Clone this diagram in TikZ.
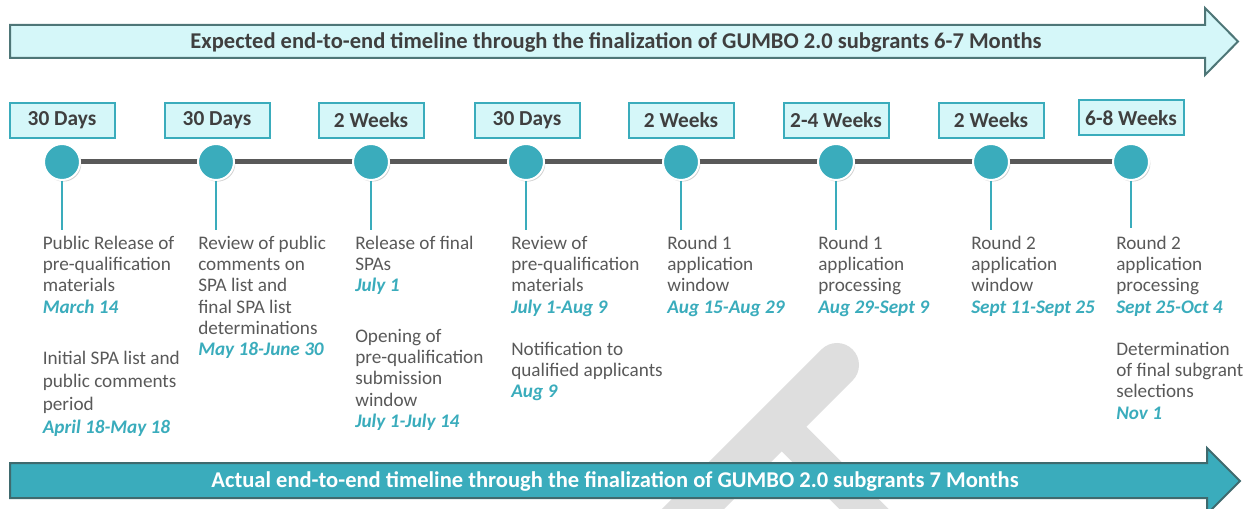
\documentclass[tikz,border=0pt]{standalone}
\usepackage{fontspec}
\setmainfont{Carlito}
\usetikzlibrary{shadows}
\definecolor{tealc}{HTML}{3AACBC}
\definecolor{cyanl}{HTML}{D5F7F9}
\definecolor{boxtxt}{HTML}{3F3F3F}
\definecolor{desctxt}{HTML}{595959}
\definecolor{linegrey}{HTML}{595959}
\definecolor{edgetop}{HTML}{4E7677}
\definecolor{edgebot}{HTML}{3F6A6E}
\definecolor{wmark}{HTML}{DEDEDE}
\newcommand\dt[1]{{\color{tealc}\bfseries\itshape #1}}
\begin{document}
\begin{tikzpicture}[x=0.75pt,y=-0.75pt,
  dur/.style={draw=tealc, fill=cyanl, line width=1.5pt, minimum width=78.75pt, minimum height=26.25pt, inner sep=0pt, font=\fontsize{16}{18}\selectfont\bfseries, text=boxtxt},
  dot/.style={circle, fill=tealc, draw=white, line width=1.5pt, minimum size=27pt, inner sep=0pt, drop shadow={shadow xshift=1pt, shadow yshift=-1.2pt, opacity=0.35}},
  desc/.style={anchor=north west, align=left, inner sep=0pt, font=\fontsize{14.4}{15.9}\selectfont, text=desctxt},
  conn/.style={draw=tealc, line width=1.5pt},
  tl/.style={draw=linegrey, line width=3.75pt},
  bigtxt/.style={font=\fontsize{16.9}{19}\selectfont\bfseries, inner sep=0pt}
]
\useasboundingbox (0,0) rectangle (1252,509);
% watermark
\begin{scope}
\clip (0,0) rectangle (1252,509);
\draw[wmark, line width=33pt, line cap=round] (837,365) -- (620,582);
\draw[wmark, line width=26pt] (778.5,423.5) -- (890,535);
\end{scope}
% top arrow
\path[draw=edgetop, fill=cyanl, line width=1.5pt, line join=miter] (10,25) -- (1205,25) -- (1205,8) -- (1238,41.5) -- (1205,75) -- (1205,58) -- (10,58) -- cycle;
\node[bigtxt, text=boxtxt] (top) at (616,42) {Expected end-to-end timeline through the finalization of GUMBO 2.0 subgrants 6-7 Months};
% bottom arrow
\path[draw=edgebot, fill=tealc, line width=1.5pt, line join=miter] (10,463) -- (1207,463) -- (1207,448) -- (1240,481) -- (1207,514) -- (1207,498) -- (10,498) -- cycle;
\node[bigtxt, text=white] (bot) at (615,481) {Actual end-to-end timeline through the finalization of GUMBO 2.0 subgrants 7 Months};
% duration boxes
\node[dur] (b1) at (62,120.5) {30 Days};
\node[dur] (b2) at (217,120.5) {30 Days};
\node[dur] (b3) at (371,120.5) {2 Weeks};
\node[dur] (b4) at (527,120.5) {30 Days};
\node[dur] (b5) at (681,120.5) {2 Weeks};
\node[dur] (b6) at (836,120.5) {2-4 Weeks};
\node[dur] (b7) at (991,120.5) {2 Weeks};
\node[dur] (b8) at (1131,118) {6-8 Weeks};
% timeline
\coordinate (s1) at (62,162);
\coordinate (s8) at (1131,162);
\draw[tl] (s1) -- (s8);
% dots
\node[dot] (c1) at (62,162) {};
\node[dot] (c2) at (216,162) {};
\node[dot] (c3) at (371,162) {};
\node[dot] (c4) at (526,162) {};
\node[dot] (c5) at (681,162) {};
\node[dot] (c6) at (836,162) {};
\node[dot] (c7) at (991,162) {};
\node[dot] (c8) at (1131,162) {};
% connectors
\coordinate (e1) at (62,230);
\coordinate (e2) at (216,230);
\coordinate (e3) at (371,230);
\coordinate (e4) at (526,230);
\coordinate (e5) at (681,230);
\coordinate (e6) at (836,230);
\coordinate (e7) at (991,230);
\coordinate (e8) at (1131,228);
\foreach \i in {1,...,8} {\draw[conn] (c\i) -- (e\i);}
% descriptions
\node[desc] (t1a) at (42.5,236) {Public Release of\\pre-qualification\\materials\\\dt{March 14}};
\node[desc, font=\fontsize{14.4}{17.2}\selectfont] (t1b) at (42.5,351) {Initial SPA list and\\public comments\\period\\\dt{April 18-May 18}};
\node[desc] (t2a) at (198,236) {Review of public\\comments on\\SPA list and\\final SPA list\\determinations\\\dt{May 18-June 30}};
\node[desc] (t3a) at (355,236) {Release of final\\SPAs\\\dt{July 1}};
\node[desc] (t3b) at (355,329) {Opening of\\pre-qualification\\submission\\window\\\dt{July 1-July 14}};
\node[desc] (t4a) at (511,236) {Review of\\pre-qualification\\materials\\\dt{July 1-Aug 9}};
\node[desc] (t4b) at (511,342) {Notification to\\qualified applicants\\\dt{Aug 9}};
\node[desc] (t5a) at (667,236) {Round 1\\application\\window\\\dt{Aug 15-Aug 29}};
\node[desc] (t6a) at (818,236) {Round 1\\application\\processing\\\dt{Aug 29-Sept 9}};
\node[desc] (t7a) at (971,236) {Round 2\\application\\window\\\dt{Sept 11-Sept 25}};
\node[desc] (t8a) at (1116,236) {Round 2\\application\\processing\\\dt{Sept 25-Oct 4}};
\node[desc] (t8b) at (1116,342) {Determination\\of final subgrant\\selections\\\dt{Nov 1}};
\end{tikzpicture}
\end{document}
